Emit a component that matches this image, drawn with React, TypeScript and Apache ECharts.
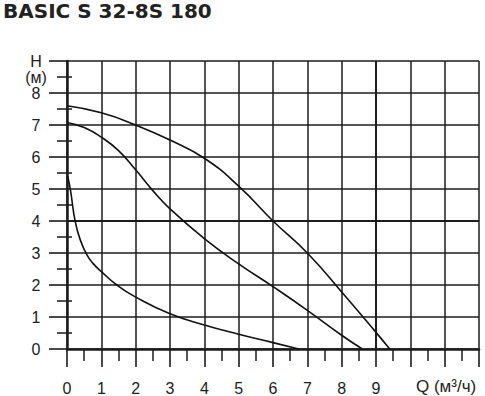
import React, { useEffect, useRef } from "react";
import * as echarts from "echarts";

const titleText = "BASIC S 32-8S 180";
const xTickLabels = [0, 1, 2, 3, 4, 5, 6, 7, 8, 9];
const yTickLabels = [0, 1, 2, 3, 4, 5, 6, 7, 8];
const xHalfTicks = [0.5, 1.5, 2.5, 3.5, 4.5, 5.5, 6.5, 7.5, 8.5, 9.5, 10.5, 11.5];
const yHalfTicks = [0.5, 1.5, 2.5, 3.5, 4.5, 5.5, 6.5, 7.5, 8.5];

const topQ = [0, 1, 2, 3, 4, 5, 6, 7, 8, 9, 9.4];
const topH = [7.6, 7.38, 7.0, 6.53, 5.96, 5.09, 4.0, 3.0, 1.78, 0.52, 0];

const midQ = [0, 0.5, 1, 1.5, 2, 2.5, 3, 4, 5, 6, 7, 8, 8.6];
const midH = [7.08, 6.92, 6.62, 6.2, 5.6, 4.95, 4.38, 3.45, 2.66, 1.95, 1.21, 0.43, 0];

const botQ = [0.02, 0.1, 0.24, 0.39, 0.58, 0.77, 1, 1.45, 2, 3, 4, 5, 6, 6.75];
const botH = [5.4, 4.97, 3.98, 3.4, 2.94, 2.66, 2.42, 2.0, 1.62, 1.1, 0.75, 0.46, 0.2, 0];

const pairs = (q: number[], h: number[]) => q.map((v, i) => [v, h[i]]);

export default function App() {
  const ref = useRef<HTMLDivElement>(null);
  useEffect(() => {
    if (!ref.current) return;
    const chart = echarts.init(ref.current, null, { renderer: "svg" });
    const ink = "#1c1c1c";
    const font = "Liberation Sans, Arial, sans-serif";
    const curve = (name: string, data: number[][], smooth: number, extra: any = {}) => ({
      name,
      type: "line",
      data,
      smooth,
      showSymbol: false,
      symbol: "none",
      lineStyle: { color: "#111", width: 1.6 },
      xAxisIndex: 0,
      yAxisIndex: 0,
      z: 5,
      ...extra,
    });
    chart.setOption({
      animation: false,
      backgroundColor: "#ffffff",
      grid: { left: 67, top: 61, right: 6, bottom: 47, containLabel: false },
      xAxis: [
        {
          type: "value",
          min: 0,
          max: 12,
          interval: 1,
          position: "bottom",
          axisLine: { show: true, onZero: false, lineStyle: { color: ink, width: 2.5 } },
          axisTick: { show: true, length: 18, lineStyle: { color: ink, width: 1.6 } },
          axisLabel: {
            customValues: xTickLabels,
            margin: 31,
            fontSize: 16,
            fontFamily: font,
            color: "#222",
          },
          splitLine: { show: true, lineStyle: { color: ink, width: 1.5 } },
        },
        {
          type: "value",
          min: 0,
          max: 12,
          position: "bottom",
          axisLine: { show: false },
          axisTick: { show: true, customValues: xHalfTicks, length: 12, lineStyle: { color: ink, width: 1.5 } },
          axisLabel: { show: false },
          splitLine: { show: false },
        },
      ],
      yAxis: [
        {
          type: "value",
          min: 0,
          max: 9,
          interval: 1,
          position: "left",
          axisLine: { show: true, onZero: false, lineStyle: { color: ink, width: 2.5 } },
          axisTick: { show: true, length: 18, lineStyle: { color: ink, width: 1.6 } },
          axisLabel: {
            customValues: [0, 1, 2, 3, 4, 5, 6, 7, 8, 8.5, 9],
            formatter: (v: number) =>
              v === 9 ? "H" : v === 8.5 ? "(м)" : yTickLabels.indexOf(v) >= 0 ? String(v) : "",
            margin: 31,
            align: "center",
            fontSize: 16,
            fontFamily: font,
            color: "#222",
          },
          splitLine: { show: true, lineStyle: { color: ink, width: 1.5 } },
        },
        {
          type: "value",
          min: 0,
          max: 9,
          position: "left",
          axisLine: { show: false },
          axisTick: { show: true, customValues: yHalfTicks, length: 10, lineStyle: { color: ink, width: 1.5 } },
          axisLabel: { show: false },
          splitLine: { show: false },
        },
        {
          type: "value",
          min: 0,
          max: 9,
          position: "left",
          axisLine: { show: false },
          axisTick: { show: true, inside: true, customValues: yHalfTicks, length: 5, lineStyle: { color: ink, width: 1.5 } },
          axisLabel: { show: false },
          splitLine: { show: false },
        },
      ],
      graphic: [
        {
          type: "text",
          left: 3,
          top: 1,
          style: {
            text: titleText,
            fontSize: 20,
            fontWeight: "bold",
            fontFamily: "DejaVu Sans, Verdana, sans-serif",
            fill: "#222",
          },
        },
        {
          type: "text",
          left: 416,
          top: 378,
          style: {
            text: "Q (м³/ч)",
            fontSize: 17,
            fontFamily: font,
            fill: "#222",
          },
        },
      ],
      series: [
        curve("top", pairs(topQ, topH), 0.5, {
          markLine: {
            symbol: "none",
            silent: true,
            label: { show: false },
            lineStyle: { color: ink, width: 2, type: "solid" },
            data: [{ yAxis: 4 }, { xAxis: 9 }],
            z: 2,
          },
        }),
        curve("mid", pairs(midQ, midH), 0.5),
        curve("bot", pairs(botQ, botH), 0.5),
      ],
    });
    return () => chart.dispose();
  }, []);
  return (
    <div
      ref={ref}
      style={{ position: "absolute", left: 0, top: 0, width: 485, height: 396 }}
    />
  );
}
